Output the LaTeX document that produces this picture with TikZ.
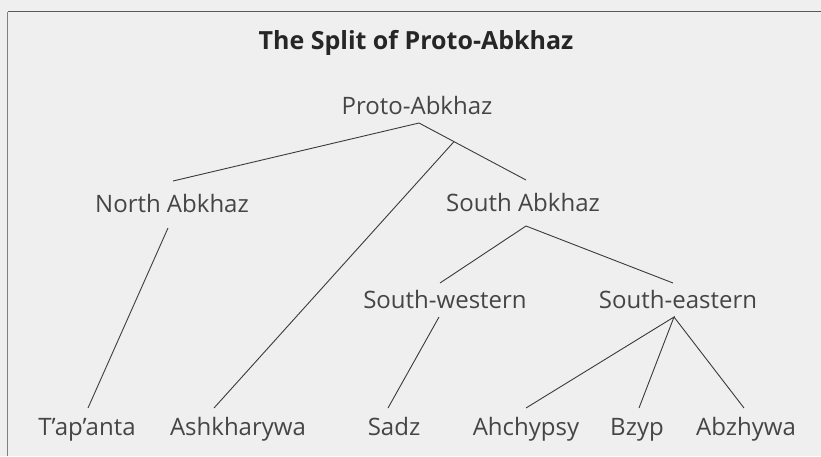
\documentclass[tikz,border=0pt]{standalone}
\usepackage{fontspec}
\setmainfont{Open Sans}
\definecolor{bgc}{HTML}{EFEFEF}
\definecolor{txt}{HTML}{454545}
\definecolor{ln}{HTML}{3A3A3A}
\begin{document}
\begin{tikzpicture}[x=1pt,y=-1pt,
  lbl/.style={font=\fontsize{24}{28}\selectfont, text=txt, anchor=base, inner sep=0pt, outer sep=0pt},
  leaf/.style={lbl, text height=18pt, text depth=5pt, inner ysep=9pt},
  ttl/.style={font=\fontsize{25}{28}\selectfont\bfseries, text=black!85, anchor=base, inner sep=0pt},
  edge/.style={draw=ln, line width=0.9pt},
  frame/.style={draw=black!65, line width=1.6pt}]
\fill[bgc] (0,0) rectangle (821,456);
\useasboundingbox (0,0) rectangle (821,456);
\coordinate (fc) at (7.5,11.5);
\coordinate (fr) at (821,11.5);
\coordinate (fb) at (7.5,456);
\draw[frame] (fr) -- (fc);
\draw[draw=black!50, line width=1pt] (fc) -- (fb);

\node[ttl] (title) at (416,49) {The Split of Proto-Abkhaz};
\node[lbl] (proto) at (417,114) {Proto-Abkhaz};
\node[lbl] (north) at (172,212) {North Abkhaz};
\node[lbl] (south) at (523,211) {South Abkhaz};
\node[lbl] (sw) at (445,308) {South-western};
\node[lbl] (se) at (678,308) {South-eastern};
\node[leaf] (tap) at (87,435) {T’ap’anta};
\node[leaf] (ash) at (238,435) {Ashkharywa};
\node[leaf] (sadz) at (394,435) {Sadz};
\node[leaf] (ahch) at (526,435) {Ahchypsy};
\node[leaf] (bzyp) at (637,435) {Bzyp};
\node[leaf] (abzh) at (746,435) {Abzhywa};

\path ([xshift=2pt,yshift=-9pt]proto.base) -- ([xshift=3pt,yshift=31pt]south.base) coordinate[pos=0.327] (mid);

\draw[edge] ([xshift=1pt,yshift=31pt]north.base) -- ([xshift=2pt,yshift=-9pt]proto.base) -- ([xshift=3pt,yshift=31pt]south.base);
\draw[edge] (mid) -- ([xshift=-24pt]ash.north);
\draw[edge] ([xshift=-4pt,yshift=-16pt]north.base) -- ([xshift=1pt]tap.north);
\draw[edge] ([xshift=-5pt,yshift=25pt]sw.base) -- ([xshift=3pt,yshift=-15pt]south.base) -- ([xshift=-5pt,yshift=25pt]se.base);
\draw[edge] ([xshift=-6pt,yshift=-9pt]sw.base) -- ([xshift=-6pt]sadz.north);
\draw[edge] (ahch.north) -- ([xshift=-4pt,yshift=-9pt]se.base) -- ([xshift=2pt]bzyp.north);
\draw[edge] ([xshift=-4pt,yshift=-9pt]se.base) -- ([xshift=-2pt]abzh.north);
\end{tikzpicture}
\end{document}
